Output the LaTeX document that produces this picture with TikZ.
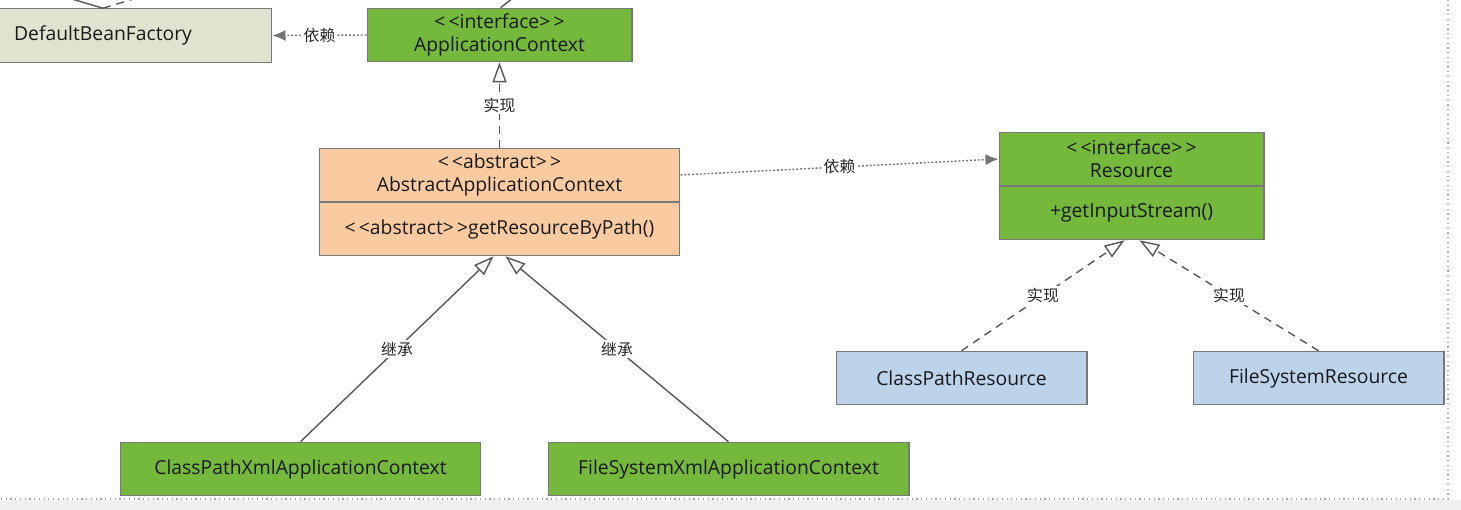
\documentclass[tikz,border=0pt]{standalone}
\usepackage{fontspec}
\setmainfont{Open Sans}
\newfontfamily\cjk{Noto Sans CJK SC}
\usepackage{tikz}
\usetikzlibrary{arrows.meta, calc, positioning}
\definecolor{clsGreen}{RGB}{116,184,60}
\definecolor{clsOrange}{RGB}{250,203,160}
\definecolor{clsBlue}{RGB}{188,211,234}
\definecolor{clsOlive}{RGB}{222,228,207}
\definecolor{clsLine}{RGB}{120,120,120}
\definecolor{pageLine}{RGB}{150,170,200}
\newcommand{\stereo}[1]{{<}\kern1.8pt{<}#1{>}\kern1.8pt{>}}
\tikzset{
  cls/.style={draw=clsLine, line width=0.6pt, inner sep=0pt, align=center,
    minimum height=1.07cm, text=black!90, font=\fontsize{11}{13}\selectfont},
  depend/.style={line width=0.8pt, black!55, dash pattern=on 1.1pt off 1.1pt,
    -{Latex[length=2.6mm, width=2.2mm]}},
  realize/.style={line width=0.8pt, black!65, dash pattern=on 4.5pt off 3.4pt,
    -{Triangle[open, length=4mm, width=2.8mm, line width=0.8pt, fill=white]}},
  inherit/.style={line width=0.8pt, black!65,
    -{Triangle[open, length=4mm, width=2.8mm, line width=0.8pt, fill=white]}},
  lbl/.style={fill=white, inner sep=0.4mm, text=black!85, font=\cjk\fontsize{9}{10}\selectfont}
}

\begin{document}
\begin{tikzpicture}[x=0.02cm, y=-0.02cm, line cap=butt]
	\clip (0,0) rectangle (1461,510);
	\fill[white] (0,0) rectangle (1461,510);
	\fill[black!6] (0,500) rectangle (1461,510);
	\draw[pageLine, dotted, line width=0.7pt] (1448,0) -- (1448,499) -- (0,499);

	\node[cls, fill=clsOlive, minimum width=6.76cm] (dbf) at (103,35.5) {DefaultBeanFactory};
	\node[cls, fill=clsGreen, minimum width=5.3cm] (ac) at (499.5,35) {\stereo{interface}\\ApplicationContext};

	\node[cls, fill=clsOrange, minimum width=7.22cm] (abs) at (499.5,175) {\stereo{abstract}\\AbstractApplicationContext};
	\node[cls, fill=clsOrange, minimum width=7.22cm, minimum height=1.06cm, below=0pt of abs] (absm) {\stereo{abstract}getResourceByPath()};

	\node[cls, fill=clsGreen, minimum width=5.3cm] (res) at (1131.5,159) {\stereo{interface}\\Resource};
	\node[cls, fill=clsGreen, minimum width=5.3cm, minimum height=1.06cm, below=0pt of res] (resm) {+getInputStream()};

	\node[cls, fill=clsBlue, minimum width=5.02cm] (cpr) at (961.5,378) {ClassPathResource};
	\node[cls, fill=clsBlue, minimum width=5.02cm] (fsr) at (1318.5,378) {FileSystemResource};

	\node[cls, fill=clsGreen, minimum width=7.22cm] (cpx) at (300.5,469) {ClassPathXmlApplicationContext};
	\node[cls, fill=clsGreen, minimum width=7.22cm] (fsx) at (728.5,469) {FileSystemXmlApplicationContext};

	% lines coming in from above the view
	\coordinate (dbfL) at (55,-6);
	\coordinate (dbfR) at (150,-6);
	\coordinate (acUp) at (526,-12);
	\draw[line width=0.8pt, black!65] (dbf.north) -- (dbfL);
	\draw[line width=0.8pt, black!65, dash pattern=on 4.5pt off 3.4pt] (dbf.north) -- (dbfR);
	\draw[line width=0.8pt, black!65] ($(ac.north)+(1,0)$) -- (acUp);

	\draw[depend] (ac.west) -- node[lbl]{依赖} (dbf.east);
	\draw[realize] (abs.north) -- node[lbl]{实现} (ac.south);
	\draw[depend] (abs.east) -- node[lbl]{依赖} (res.west);

	\draw[inherit] (cpx.north) -- node[lbl]{继承} ($(absm.south)+(-6,0)$);
	\draw[inherit] (fsx.north) -- node[lbl]{继承} ($(absm.south)+(6,0)$);

	\draw[realize] (cpr.north) -- node[lbl]{实现} ($(resm.south)+(-7,0)$);
	\draw[realize] (fsr.north) -- node[lbl]{实现} ($(resm.south)+(8,0)$);
\end{tikzpicture}
\end{document}
